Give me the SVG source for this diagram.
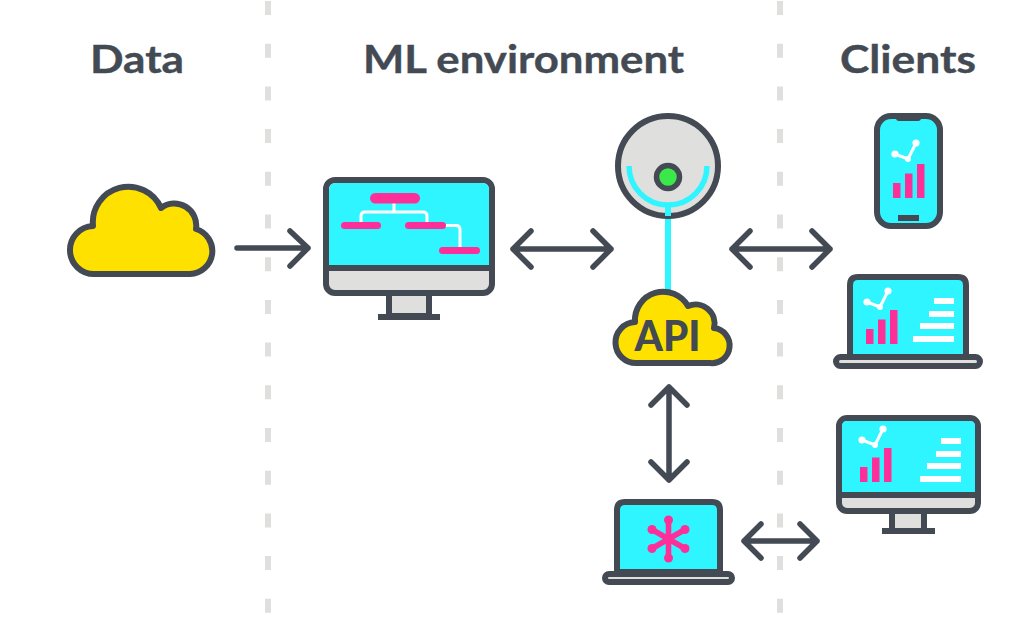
<svg xmlns="http://www.w3.org/2000/svg" width="1024" height="628" viewBox="0 0 1024 628">
  <style>
    .title { font-family: "Lato", "Liberation Sans", sans-serif; font-weight: 700; font-size: 39px; fill: #434a54; stroke: #434a54; stroke-width: 0.4; }
    .api { font-family: "Lato", "Liberation Sans", sans-serif; font-weight: 900; font-size: 42px; fill: #434a54; }
    .ol { stroke: #434a54; stroke-width: 6; stroke-linejoin: round; }
    .dark { fill: #434a54; }
    .cy { fill: #2ef5ff; }
    .gr { fill: #dfdfdd; }
    .ye { fill: #ffe100; }
    .pk { fill: #ff2f9a; }
    .wh { fill: #ffffff; }
    .wline { fill: none; stroke: #ffffff; stroke-width: 3; }
    .trend { fill: none; stroke: #ffffff; stroke-width: 3; stroke-linejoin: round; }
    .arrow { fill: none; stroke: #434a54; stroke-width: 5.5; stroke-linecap: round; stroke-linejoin: round; }
    .divider { fill: none; stroke: #dfdfdd; stroke-width: 6; stroke-dasharray: 14 28.7; }
  </style>
  <defs>
    <!-- white trend line with three dots, shared by the client screens -->
    <g id="trend">
      <path class="trend" d="M0 0 L13 5 L21 -11"/>
      <circle class="wh" cx="0" cy="0" r="3.6"/>
      <circle class="wh" cx="13" cy="5" r="3"/>
      <circle class="wh" cx="21" cy="-11" r="3.6"/>
    </g>
    <!-- three rising pink bars; the origin is the bottom left corner -->
    <g id="bars">
      <rect class="pk" x="0" y="-15" width="7.5" height="15"/>
      <rect class="pk" x="12" y="-24.500" width="7.500" height="24.500"/>
      <rect class="pk" x="24" y="-34" width="7.500" height="34"/>
    </g>
    <!-- white stepped list; the origin is the top right corner -->
    <g id="steps">
      <rect class="wh" x="-20" y="0" width="20" height="6"/>
      <rect class="wh" x="-25" y="13" width="25" height="6"/>
      <rect class="wh" x="-34" y="25" width="34" height="6"/>
      <rect class="wh" x="-41" y="38" width="41" height="6"/>
    </g>
  </defs>

  <rect width="1024" height="628" fill="#ffffff"/>

  <g id="dividers">
    <path class="divider" d="M268 1 V628"/>
    <path class="divider" d="M780 1 V628"/>
  </g>

  <g id="titles">
    <text class="title" x="137" y="73" text-anchor="middle" textLength="94" lengthAdjust="spacingAndGlyphs">Data</text>
    <text class="title" x="523.500" y="73" text-anchor="middle" textLength="321" lengthAdjust="spacingAndGlyphs">ML environment</text>
    <text class="title" x="908" y="73" text-anchor="middle" textLength="136" lengthAdjust="spacingAndGlyphs">Clients</text>
  </g>

  <g id="connectors">
    <!-- uplink between the sensor and the API cloud -->
    <path d="M668 204 V293" fill="none" stroke="#2ef5ff" stroke-width="6"/>
    <path class="arrow" d="M237 248 H308 M290 231 L308 248 L290 266"/>
    <path class="arrow" d="M513 249 H611 M531 231 L513 249 L531 267 M593 231 L611 249 L593 267"/>
    <path class="arrow" d="M732 249 H830 M750 231 L732 249 L750 267 M812 231 L830 249 L812 267"/>
    <path class="arrow" d="M669 387 V480 M651 405 L669 387 L687 405 M651 462 L669 480 L687 462"/>
    <path class="arrow" d="M744 541 H817 M761 524 L744 541 L761 558 M800 524 L817 541 L800 558"/>
  </g>

  <g id="data-cloud">
    <path class="ye ol" d="M95 274 A24 24 0 0 1 93 226 A35.600 35.600 0 0 1 161 208 A22 22 0 0 1 196 229 A23 23 0 0 1 190 274 Z"/>
  </g>

  <g id="ml-monitor">
    <path class="gr ol" d="M389 293 V316 H429 V293 Z"/>
    <rect class="dark" x="378" y="314" width="62" height="6"/>
    <rect class="gr ol" x="326" y="180" width="166" height="113" rx="9"/>
    <path class="cy" d="M329 268 V190 Q329 183 336 183 H482 Q489 183 489 190 V268 Z"/>
    <path d="M326 268 H492" stroke="#434a54" stroke-width="6" fill="none"/>
    <path class="wline" d="M394 203 V212 M361 224 V216 Q361 212 365 212 H423 Q427 212 427 216 V224 M444 225.500 H456 Q460 225.500 460 229.500 V248"/>
    <rect class="pk" x="370" y="193" width="50" height="10.500" rx="5.250"/>
    <rect class="pk" x="341" y="222" width="40" height="7" rx="3.500"/>
    <rect class="pk" x="405" y="222" width="41" height="7" rx="3.500"/>
    <rect class="pk" x="439" y="247" width="41" height="7" rx="3.500"/>
  </g>

  <g id="sensor">
    <circle class="gr ol" cx="668" cy="166" r="50"/>
    <path d="M629 166 A39 39 0 0 0 707 166" fill="none" stroke="#2ef5ff" stroke-width="5.500"/>
    <path d="M668 204 V216" fill="none" stroke="#2ef5ff" stroke-width="6"/>
    <circle cx="668" cy="177" r="11.500" fill="#3be84a" stroke="#434a54" stroke-width="5.500"/>
  </g>

  <g id="api-cloud">
    <path class="ye ol" d="M637 363 A20.500 20.500 0 0 1 635 322 A28.400 28.400 0 0 1 688 306 A19 19 0 0 1 714 328 A17.600 17.600 0 0 1 710 363 Z"/>
    <text class="api" x="667.500" y="351" text-anchor="middle" textLength="66" lengthAdjust="spacingAndGlyphs">API</text>
  </g>

  <g id="ml-laptop">
    <path class="cy ol" d="M617 572 V510 Q617 502 625 502 H712 Q720 502 720 510 V572 Z"/>
    <rect class="gr ol" x="605" y="574" width="127" height="8" rx="4"/>
    <g fill="none" stroke="#ff2f9a" stroke-width="5.500">
      <path d="M668.500 520 V558 M652 529.500 L685 548.500 M685 529.500 L652 548.500"/>
    </g>
    <g class="pk">
      <circle cx="668.500" cy="520" r="4.500"/>
      <circle cx="668.500" cy="558" r="4.500"/>
      <circle cx="652" cy="529.500" r="4.500"/>
      <circle cx="685" cy="529.500" r="4.500"/>
      <circle cx="652" cy="548.500" r="4.500"/>
      <circle cx="685" cy="548.500" r="4.500"/>
    </g>
  </g>

  <g id="client-phone">
    <rect class="cy ol" x="877" y="116" width="63" height="110" rx="14"/>
    <path class="dark" d="M896 116 H921 V118 Q921 121 918 121 H899 Q896 121 896 118 Z"/>
    <rect class="dark" x="898" y="215" width="21" height="6"/>
    <use href="#trend" x="895" y="154"/>
    <use href="#bars" x="893" y="198"/>
  </g>

  <g id="client-laptop">
    <path class="cy ol" d="M850 357 V285 Q850 277 858 277 H958 Q966 277 966 285 V357 Z"/>
    <rect class="gr ol" x="836" y="357" width="144" height="9" rx="4.500"/>
    <use href="#trend" x="867" y="302"/>
    <use href="#bars" x="866" y="344"/>
    <use href="#steps" x="954" y="298"/>
  </g>

  <g id="client-monitor">
    <path class="gr ol" d="M892 511 V531 H924 V511 Z"/>
    <rect class="dark" x="882" y="528" width="53" height="6"/>
    <rect class="gr ol" x="839" y="418" width="139" height="93" rx="8"/>
    <path class="cy" d="M842 495 V426 Q842 421 847 421 H970 Q975 421 975 426 V495 Z"/>
    <path d="M839 495 H978" stroke="#434a54" stroke-width="6" fill="none"/>
    <use href="#trend" x="862" y="440"/>
    <use href="#bars" x="860" y="482"/>
    <use href="#steps" x="961" y="438"/>
  </g>
</svg>
